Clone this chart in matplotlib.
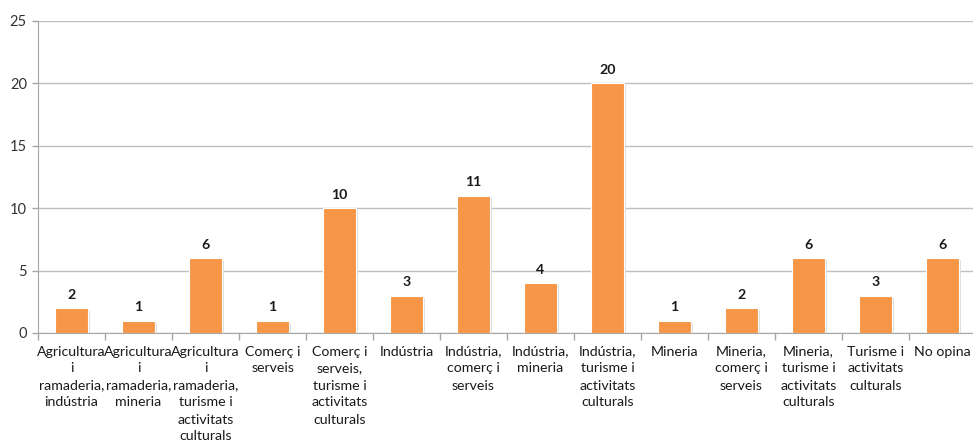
import matplotlib
matplotlib.use("Agg")
import matplotlib.pyplot as plt
import matplotlib.patheffects as pe
import numpy as np

categories = [
    "Agricultura\ni\nramaderia,\nindústria",
    "Agricultura\ni\nramaderia,\nmineria",
    "Agricultura\ni\nramaderia,\nturisme i\nactivitats\nculturals",
    "Comerç i\nserveis",
    "Comerç i\nserveis,\nturisme i\nactivitats\nculturals",
    "Indústria",
    "Indústria,\ncomerç i\nserveis",
    "Indústria,\nmineria",
    "Indústria,\nturisme i\nactivitats\nculturals",
    "Mineria",
    "Mineria,\ncomerç i\nserveis",
    "Mineria,\nturisme i\nactivitats\nculturals",
    "Turisme i\nactivitats\nculturals",
    "No opina",
]
values = [2, 1, 6, 1, 10, 3, 11, 4, 20, 1, 2, 6, 3, 6]
yticks = [0, 5, 10, 15, 20, 25]

plt.rcParams['font.family'] = ['Lato', 'DejaVu Sans']

fig = plt.figure(figsize=(9.73, 4.46), dpi=100)
ax = fig.add_axes([38/973, (446-333)/446, (976-38)/973, (333-21)/446])

x = np.arange(len(values))
bars = ax.bar(x, values, width=0.5, color="#F79646", edgecolor="white", linewidth=0.8, zorder=3,
              path_effects=[pe.SimplePatchShadow(offset=(1.5, -1.5), shadow_rgbFace="#d9d9d9", alpha=0.8), pe.Normal()])
for xi, v in zip(x, values):
    ax.text(xi, v + 0.6, str(v), ha="center", va="bottom", fontsize=10.2, fontweight="bold", color="#1a1a1a")

ax.set_xlim(-0.5, len(values) - 0.5)
ax.set_ylim(0, 25)
ax.set_yticks(yticks)
ax.set_yticklabels([str(t) for t in yticks], fontsize=10.5, color="#333333")
ax.yaxis.grid(True, color="#BFBFBF", linewidth=1, zorder=0)
ax.set_axisbelow(True)

ax.set_xticks(x)
ax.set_xticklabels(categories, fontsize=10.2, color="#1a1a1a", linespacing=1.5)
ax.tick_params(axis="x", length=0, pad=9)
ax.set_xticks(np.arange(-0.5, len(values), 1.0), minor=True)
ax.tick_params(axis="x", which="minor", length=5, color="#A6A6A6", width=1)
ax.tick_params(axis="y", length=4, color="#A6A6A6", width=1, pad=4)

for s in ["top", "right"]:
    ax.spines[s].set_visible(False)
ax.spines["left"].set_color("#A6A6A6")
ax.spines["bottom"].set_color("#A6A6A6")

fig.savefig("out.png", dpi=100)
